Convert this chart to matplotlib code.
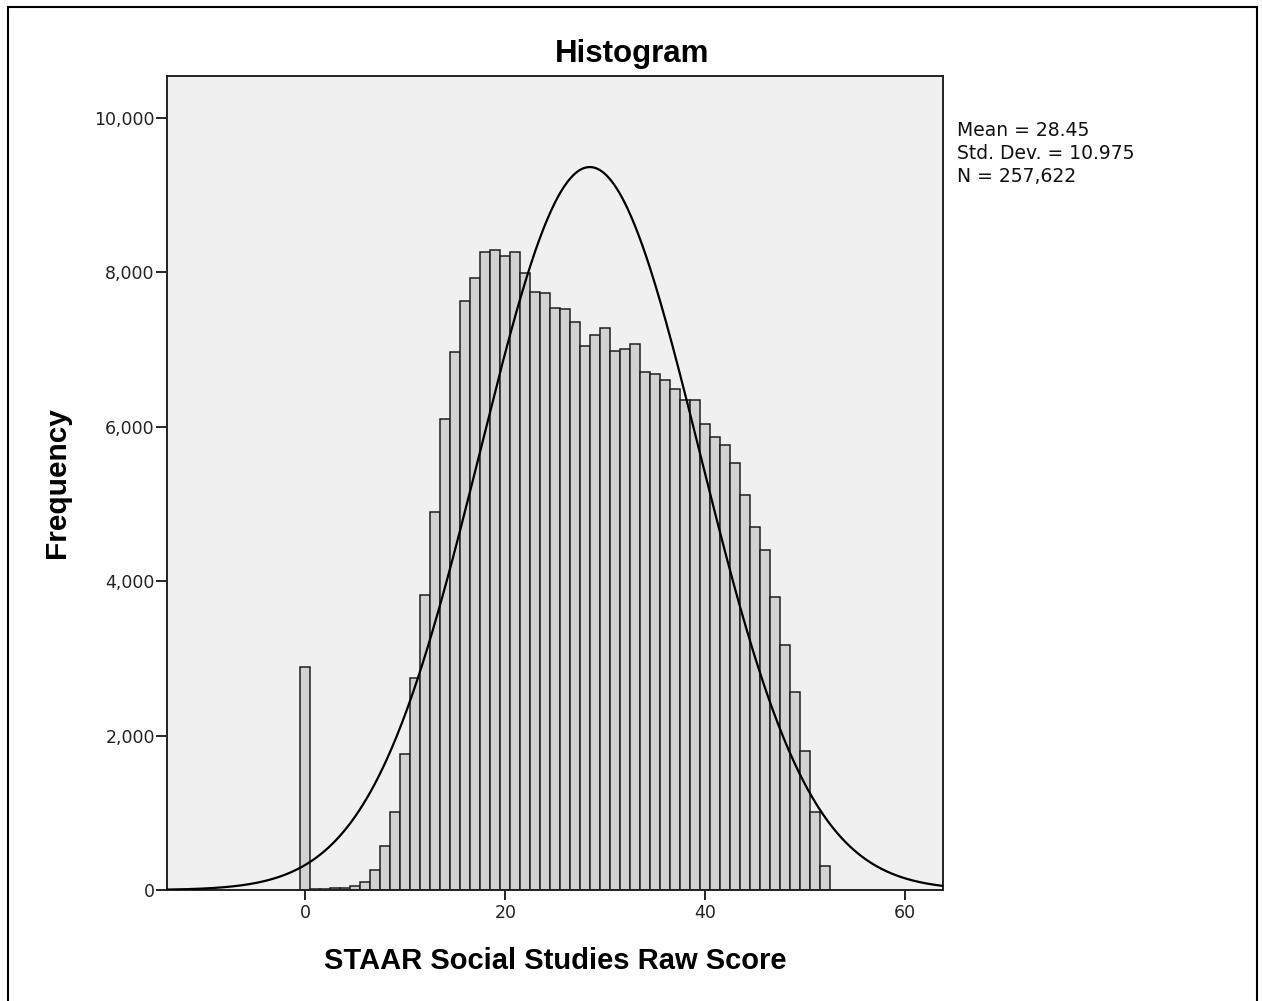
import numpy as np
import matplotlib
matplotlib.use("Agg")
import matplotlib.pyplot as plt
from matplotlib.patches import Rectangle

# Data (raw score -> frequency)
scores = list(range(0, 53))
freqs = [2893, 8, 12, 20, 28, 55, 107, 259, 574, 1014,
         1762, 2742, 3821, 4896, 6100, 6970, 7630, 7930, 8260, 8290,
         8210, 8270, 7990, 7740, 7730, 7535, 7525, 7360, 7050, 7190,
         7285, 6985, 7010, 7070, 6715, 6690, 6610, 6485, 6345, 6350,
         6040, 5865, 5765, 5530, 5120, 4700, 4410, 3800, 3170, 2560,
         1795, 1005, 305]
mean_val = 28.45
sd_val = 10.975
n_val = 257622
x_ticks = [0, 20, 40, 60]
y_ticks = [0, 2000, 4000, 6000, 8000, 10000]
y_ticklabels = ["0", "2,000", "4,000", "6,000", "8,000", "10,000"]

W, H = 1262, 1001
fig = plt.figure(figsize=(W / 100, H / 100), dpi=100)
fig.patch.set_facecolor("white")

# outer border
fig.patches.append(Rectangle((8 / W, -0.05), (1257 - 8) / W, 1.05 - 7 / H,
                             transform=fig.transFigure, fill=False,
                             edgecolor="black", linewidth=1.5))

ax_l, ax_r, ax_t, ax_b = 167.3, 943.3, 76, 890
ax = fig.add_axes([ax_l / W, 1 - ax_b / H, (ax_r - ax_l) / W, (ax_b - ax_t) / H])
ax.set_facecolor("#F0F0F0")

ax.bar(scores, freqs, width=1.0, color="#D2D2D2", edgecolor="#1E1E1E",
       linewidth=1.1, zorder=2)

xs = np.linspace(-13.8, 63.8, 600)
curve = n_val * 1.0 / (sd_val * np.sqrt(2 * np.pi)) * np.exp(-0.5 * ((xs - mean_val) / sd_val) ** 2)
ax.plot(xs, curve, color="black", linewidth=1.6, zorder=3)

ax.set_xlim(-13.8, 63.8)
ax.set_ylim(0, 10544)
ax.set_xticks(x_ticks)
ax.set_xticklabels([str(t) for t in x_ticks])
ax.set_yticks(y_ticks)
ax.set_yticklabels(y_ticklabels)
ax.tick_params(axis="x", direction="out", length=7, width=1.2, pad=3,
               labelsize=12.5, colors="black")
ax.tick_params(axis="y", direction="out", length=8, width=1.2, pad=1,
               labelsize=12.5, colors="black")
for lab in ax.get_xticklabels() + ax.get_yticklabels():
    lab.set_fontfamily("DejaVu Sans")
    lab.set_color("#222222")
for sp in ax.spines.values():
    sp.set_linewidth(1.4)
    sp.set_color("#222222")

fig.text(632 / W, 1 - 54 / H, "Histogram", ha="center", va="center",
         fontsize=22.5, fontweight="bold", family="Liberation Sans")
fig.text(555 / W, 1 - 961 / H, "STAAR Social Studies Raw Score", ha="center",
         va="center", fontsize=21, fontweight="bold", family="Liberation Sans")
fig.text(57 / W, 1 - 483 / H, "Frequency", ha="center", va="center",
         rotation=90, fontsize=21.5, fontweight="bold", family="Liberation Sans")

stats = [f"Mean = {mean_val:.2f}", f"Std. Dev. = {sd_val:.3f}", f"N = {n_val:,}"]
for i, s in enumerate(stats):
    fig.text(957 / W, 1 - (131 + 22.5 * i) / H, s, ha="left", va="center",
             fontsize=13.5, family="DejaVu Sans", color="#111111")

fig.savefig("out.png", dpi=100)
